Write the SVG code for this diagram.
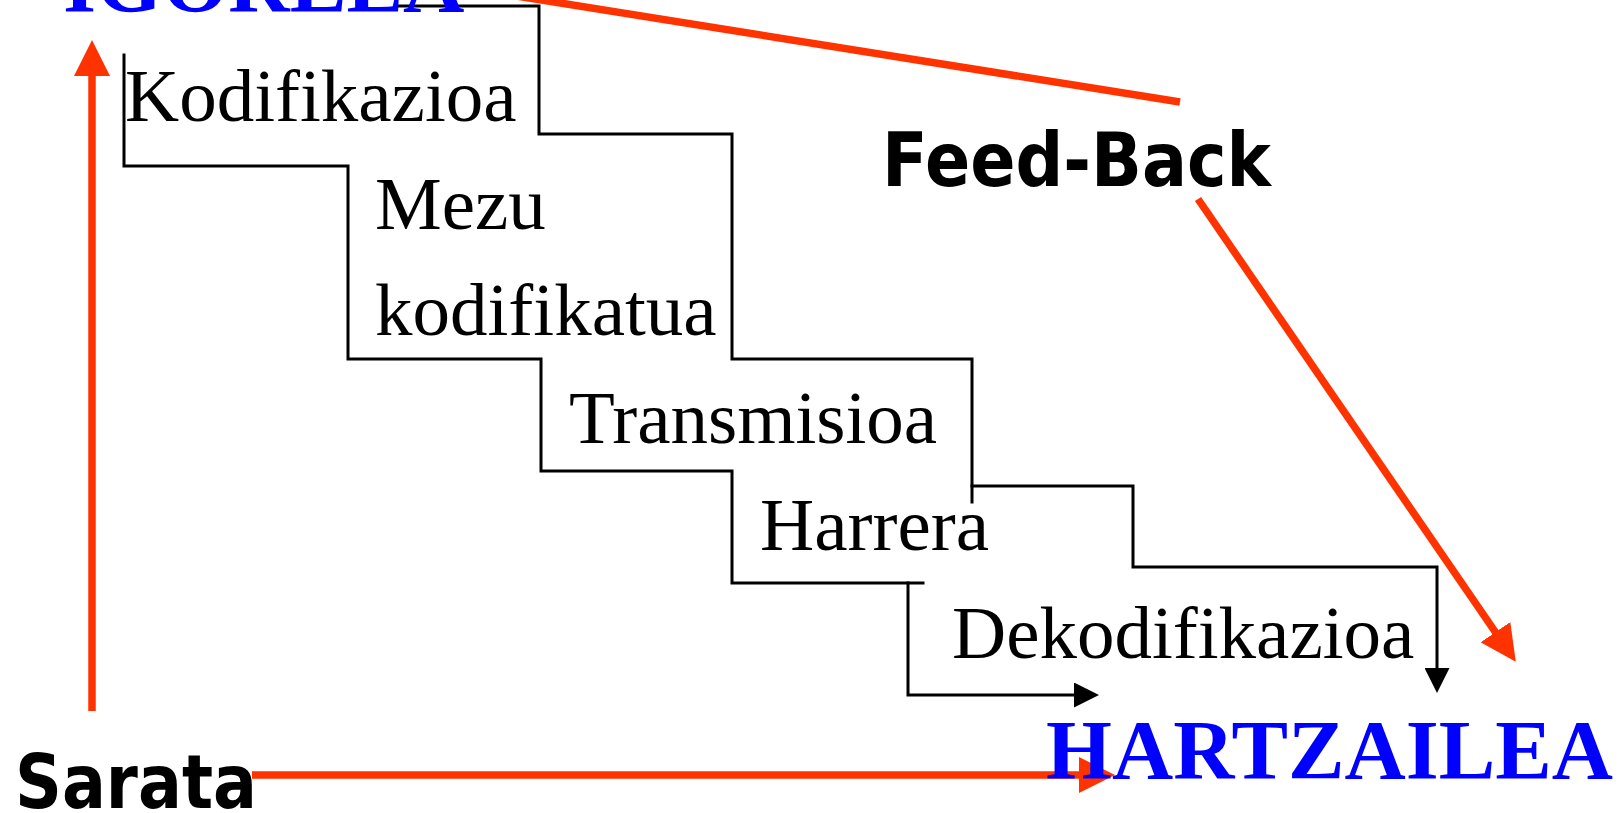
<svg xmlns="http://www.w3.org/2000/svg" width="1621" height="813" viewBox="0 0 1621 813">
  <style>
    .step { font-family: "Liberation Serif", "Times New Roman", serif; font-size: 75px; fill: #000; font-variant-ligatures: none; }
    .actor { font-family: "Liberation Serif", "Times New Roman", serif; font-size: 85px; font-weight: bold; fill: #0000ff; }
    .note { font-family: "DejaVu Sans", Verdana, sans-serif; font-size: 74px; font-weight: bold; fill: #000; }
    .flow { fill: none; stroke: #000; stroke-width: 3; stroke-linejoin: miter; stroke-linecap: square; }
    .loop { fill: none; stroke: #ff3300; stroke-width: 7.5; stroke-linecap: butt; }
  </style>
  <defs>
    <marker id="headRed" markerUnits="userSpaceOnUse" viewBox="0 -18 36 36" refX="1" refY="0" markerWidth="36" markerHeight="36" orient="auto">
      <path d="M0,-18 L36,0 L0,18 Z" fill="#ff3300"/>
    </marker>
    <marker id="headBlack" markerUnits="userSpaceOnUse" viewBox="0 -12.5 25 25" refX="1" refY="0" markerWidth="25" markerHeight="25" orient="auto">
      <path d="M0,-12.5 L25,0 L0,12.5 Z" fill="#000"/>
    </marker>
  </defs>
  <rect width="1621" height="813" fill="#fff"/>

  <!-- connectors: staircase outline of the process and the red flow arrows -->
  <g id="connectors">
    <path class="flow" d="M124,55 V166 H348 V359 H541 V471 H732 V583 H923"/>
    <path class="flow" d="M908,583 V695 H1075" marker-end="url(#headBlack)"/>
    <path class="flow" d="M398,6 H539 V134 H732 V359 H972 V502"/>
    <path class="flow" d="M972,486 H1133 V567 H1437 V669" marker-end="url(#headBlack)"/>

    <line class="loop" x1="92" y1="711" x2="92" y2="75" marker-end="url(#headRed)"/>
    <line class="loop" x1="252" y1="775" x2="1080" y2="775" marker-end="url(#headRed)"/>
    <line class="loop" x1="460" y1="-13" x2="1180" y2="102"/>
    <line class="loop" x1="1198" y1="199" x2="1496" y2="633" marker-end="url(#headRed)"/>
  </g>

  <g id="igorlea"><text class="actor" x="63" y="12">IGORLEA</text></g>
  <g id="hartzailea"><text class="actor" x="1046" y="779" textLength="567" lengthAdjust="spacingAndGlyphs">HARTZAILEA</text></g>

  <g id="kodifikazioa"><text class="step" x="125" y="121">Kodifikazioa</text></g>
  <g id="mezu-kodifikatua">
    <text class="step" x="375" y="229">Mezu</text>
    <text class="step" x="375" y="335">kodifikatua</text>
  </g>
  <g id="transmisioa"><text class="step" x="569" y="443">Transmisioa</text></g>
  <g id="harrera"><text class="step" x="760" y="550">Harrera</text></g>
  <g id="dekodifikazioa"><text class="step" x="952" y="658">Dekodifikazioa</text></g>

  <g id="feed-back"><text class="note" x="882" y="186" textLength="389" lengthAdjust="spacingAndGlyphs">Feed-Back</text></g>
  <g id="sarata"><text class="note" x="15" y="808" textLength="242" lengthAdjust="spacingAndGlyphs">Sarata</text></g>
</svg>
